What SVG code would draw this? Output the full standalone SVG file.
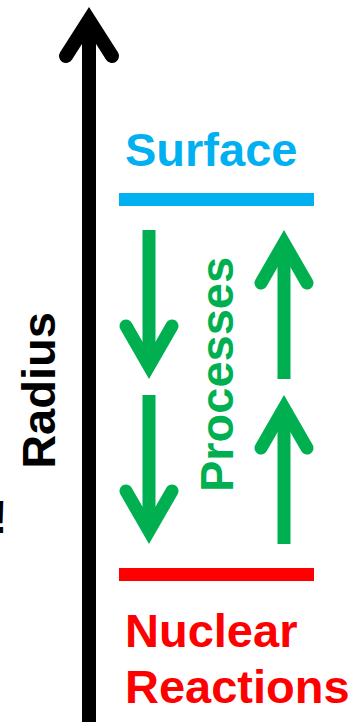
<svg xmlns="http://www.w3.org/2000/svg" width="364" height="722" viewBox="0 0 364 722">
<style>
.lbl{font-family:"Liberation Sans",Arial,sans-serif;font-weight:bold;font-size:47px}
.ga{fill:none;stroke:#00B050;stroke-width:13}
.gh{fill:none;stroke:#00B050;stroke-width:13;stroke-linecap:round;stroke-linejoin:miter;stroke-miterlimit:10}
</style>
<rect width="364" height="722" fill="#fff"/>
<g id="axis">
<line x1="89" y1="722" x2="89" y2="22" stroke="#000" stroke-width="14"/>
<polyline points="66,56 89,20 112,56" fill="none" stroke="#000" stroke-width="14" stroke-linecap="round" stroke-linejoin="miter" stroke-miterlimit="10"/>
</g>
<g id="radius-label"><text class="lbl" fill="#000" text-anchor="middle" transform="translate(55,390.5) rotate(-90)">Radius</text></g>
<g id="mark"><text class="lbl" fill="#000" font-size="74" x="-8" y="533">!</text></g>
<g id="surface">
<text class="lbl" fill="#00B0F0" x="125" y="166">Surface</text>
<rect x="119" y="193" width="195" height="13" fill="#00B0F0"/>
</g>
<g id="nuclear">
<rect x="119" y="568" width="195" height="13" fill="#FF0000"/>
<text class="lbl" fill="#FF0000" x="125" y="647">Nuclear</text>
<text class="lbl" fill="#FF0000" x="125" y="703">Reactions</text>
</g>
<g id="processes-label"><text class="lbl" fill="#00B050" text-anchor="middle" transform="translate(233,374.5) rotate(-90)">Processes</text></g>
<g id="connectors">
<line class="ga" x1="149" y1="230" x2="149" y2="366"/>
<polyline class="gh" points="126,326 149,366 172,326"/>
<line class="ga" x1="149" y1="395" x2="149" y2="531"/>
<polyline class="gh" points="126,491 149,531 172,491"/>
<line class="ga" x1="284" y1="379" x2="284" y2="243"/>
<polyline class="gh" points="261,283 284,243 307,283"/>
<line class="ga" x1="284" y1="544" x2="284" y2="408"/>
<polyline class="gh" points="261,448 284,408 307,448"/>
</g>
</svg>
